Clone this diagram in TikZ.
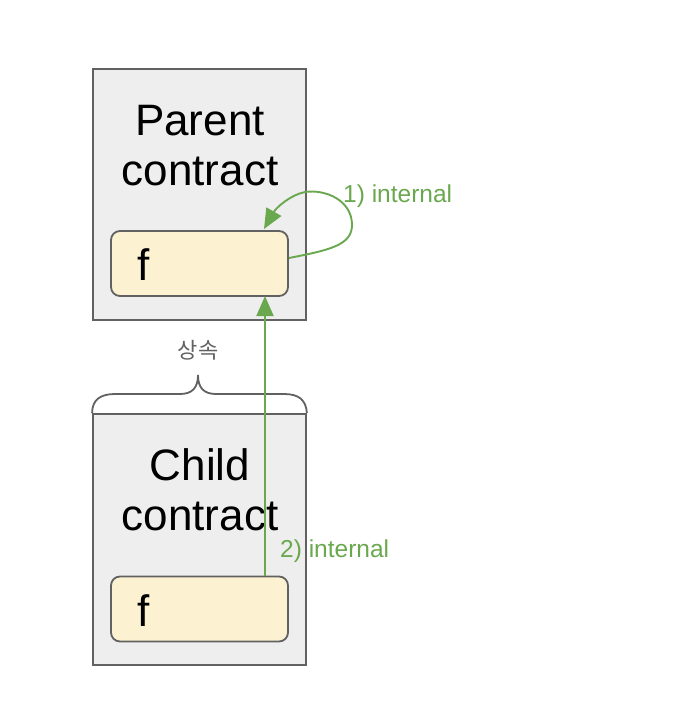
\documentclass[tikz,border=0pt]{standalone}
\usepackage{fontspec}
\setmainfont{Liberation Sans}
\newfontfamily\kofont{Noto Sans CJK KR}
\usetikzlibrary{arrows.meta}
\definecolor{boxgray}{HTML}{EEEEEE}
\definecolor{edgegray}{HTML}{616161}
\definecolor{fyellow}{HTML}{FCF1D1}
\definecolor{arrgreen}{HTML}{6AA84F}
\begin{document}
\begin{tikzpicture}[x=1pt,y=-1pt,
  contractbox/.style={draw=edgegray,fill=boxgray,line width=1.8pt,minimum width=213pt,minimum height=251pt,inner sep=0pt},
  funcbox/.style={draw=edgegray,fill=fyellow,line width=1.8pt,rounded corners=9pt,minimum width=177pt,minimum height=65pt,inner sep=0pt},
  bigtext/.style={font=\fontsize{44}{50}\selectfont,inner sep=0pt},
  greenlabel/.style={font=\fontsize{24.5}{28}\selectfont,text=arrgreen,inner sep=0pt},
  greenarrow/.style={draw=arrgreen,line width=1.9pt,-{Triangle[length=20pt,width=17pt]}}
]
\useasboundingbox (0,0) rectangle (680,728);
% parent
\node[contractbox] (parent) at (199.5,194.5) {};
\node[bigtext,anchor=base] (ptext1) at (200,135) {Parent};
\node[bigtext,anchor=base] (ptext2) at (200,185) {contract};
\node[funcbox] (pf) at (199.5,263.5) {};
\node[bigtext,anchor=base west] (pflabel) at (137,280) {f};
% child
\node[contractbox] (child) at (199.5,539.5) {};
\node[bigtext,anchor=base] (ctext1) at (200,480) {Child};
\node[bigtext,anchor=base] (ctext2) at (200,530) {contract};
\node[funcbox] (cf) at (199.5,609) {};
\node[bigtext,anchor=base west] (cflabel) at (137,626) {f};
% brace
\draw[edgegray,line width=1.8pt] (child.north west) .. controls ++(0,-13) and (100,394) .. (115,394) -- (180,394)
  .. controls (192,394) and (198,388) .. (198,375)
  .. controls (198,388) and (204,394) .. (216,394) -- (284,394)
  .. controls (299,394) and (306,400) .. (child.north east);
\node[font=\kofont\fontsize{22}{26}\selectfont,text=edgegray] (inh) at (198,350) {상속};
% arrows
\coordinate (pfout) at (pf.east |- 0,258);
\coordinate (pfin) at (264,229);
\draw[greenarrow] (pfout) .. controls (330,250) and (352,245) .. (352,225)
  .. controls (352,200) and (325,189) .. (305,192)
  .. controls (290,195) and (276,208) .. (pfin);
\node[greenlabel,anchor=base west] (l1) at (343,202) {1) internal};
\coordinate (cfup) at (265,576);
\coordinate (pfdown) at (265,296);
\draw[greenarrow] (cfup) -- (pfdown);
\node[greenlabel,anchor=base west] (l2) at (280,557) {2) internal};
\end{tikzpicture}
\end{document}
